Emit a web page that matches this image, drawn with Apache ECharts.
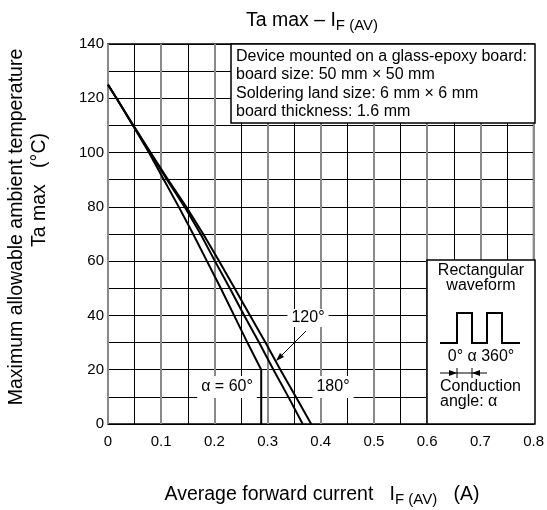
<!DOCTYPE html>
<html>
<head>
<meta charset="utf-8">
<script src="https://cdn.jsdelivr.net/npm/echarts@6/dist/echarts.min.js"></script>
<style>
  html, body { margin: 0; padding: 0; background: #fff; }
  #chart { width: 547px; height: 510px; }
</style>
</head>
<body>
<div id="chart"></div>
<script>
// Ta max vs IF(AV)
const temp60 = [125, 120, 110, 100, 90, 80, 70, 60, 50, 40, 30, 20, 0];
const current60 = [0, 0.016, 0.047, 0.077, 0.105, 0.133, 0.160, 0.186, 0.212, 0.237, 0.262, 0.288, 0.288];

const temp120 = [125, 120, 110, 100, 90, 80, 70, 60, 50, 40, 30, 20, 10, 0];
const current120 = [0, 0.016, 0.047, 0.079, 0.111, 0.144, 0.174, 0.201, 0.229, 0.256, 0.284, 0.311, 0.339, 0.366];

const temp180 = [125, 120, 110, 100, 90, 80, 70, 60, 50, 40, 30, 20, 10, 0];
const current180 = [0, 0.016, 0.048, 0.080, 0.113, 0.147, 0.179, 0.209, 0.238, 0.267, 0.296, 0.324, 0.353, 0.382];

const xTicks = [0, 0.1, 0.2, 0.3, 0.4, 0.5, 0.6, 0.7, 0.8];
const yTicks = [0, 20, 40, 60, 80, 100, 120, 140];

const noteLines = [
  'Device mounted on a glass-epoxy board:',
  'board size: 50 mm \u00d7 50 mm',
  'Soldering land size: 6 mm \u00d7 6 mm',
  'board thickness: 1.6 mm'
];

const FONT = '"Liberation Sans", Arial, sans-serif';

const zip = (xs, ys) => xs.map((x, i) => [x, ys[i]]);

const chart = echarts.init(document.getElementById('chart'));

const curve = (name, xs, ys) => ({
  name,
  type: 'line',
  data: zip(xs, ys),
  showSymbol: false,
  lineStyle: { color: '#000', width: 2 },
  animation: false,
  z: 3
});

const labelBox = (text, x, y, pad) => ({
  type: 'text',
  x, y, z: 10,
  style: {
    text,
    font: '16px ' + FONT,
    fill: '#000',
    align: 'center',
    verticalAlign: 'middle',
    backgroundColor: '#fff',
    padding: pad
  }
});

const plainText = (text, x, y, align) => ({
  type: 'text', z: 9, x, y,
  style: { text, font: '16px ' + FONT, fill: '#000', align, verticalAlign: 'middle' }
});

const subRich = {
  n: { fontSize: 19.5, fontFamily: FONT },
  s: { fontSize: 15, fontFamily: FONT, padding: [10, 0, 0, 0] }
};

const graphics = [
  // title
  {
    type: 'text', x: 312, y: 21,
    style: { text: '{n|Ta max \u2013 I}{s|F (AV)}', align: 'center', verticalAlign: 'middle', fill: '#000', rich: subRich }
  },
  // x axis name
  {
    type: 'text', x: 322, y: 495,
    style: { text: '{n|Average forward current   I}{s|F (AV)}{n|   (A)}', align: 'center', verticalAlign: 'middle', fill: '#000', rich: subRich }
  },
  // y axis name, two lines
  {
    type: 'text', x: 17, y: 227, rotation: Math.PI / 2,
    style: { text: 'Maximum allowable ambient temperature', font: '19.5px ' + FONT, fill: '#000', align: 'center', verticalAlign: 'middle' }
  },
  {
    type: 'text', x: 40, y: 190, rotation: Math.PI / 2,
    style: { text: 'Ta max   (\u00b0C)', font: '19.5px ' + FONT, fill: '#000', align: 'center', verticalAlign: 'middle' }
  },
  // mounting note box
  {
    type: 'rect', z: 8,
    shape: { x: 231, y: 44, width: 304, height: 79 },
    style: { fill: '#fff', stroke: '#000', lineWidth: 1.5 }
  },
  ...noteLines.map((t, i) => plainText(t, 236, 56.5 + i * 18.5, 'left')),
  // waveform box
  {
    type: 'rect', z: 8,
    shape: { x: 427, y: 260, width: 108, height: 164 },
    style: { fill: '#fff', stroke: '#000', lineWidth: 1.5 }
  },
  plainText('Rectangular', 481, 271, 'center'),
  plainText('waveform', 481, 286, 'center'),
  {
    type: 'polyline', z: 9,
    shape: { points: [[440, 343], [457, 343], [457, 313], [472, 313], [472, 343], [487, 343], [487, 313], [502, 313], [502, 343], [520, 343]] },
    style: { stroke: '#000', lineWidth: 2, fill: null }
  },
  plainText('0\u00b0 \u03b1 360\u00b0', 481, 357, 'center'),
  {
    type: 'line', z: 9, shape: { x1: 440, y1: 373, x2: 487, y2: 373 },
    style: { stroke: '#000', lineWidth: 1 }
  },
  {
    type: 'line', z: 9, shape: { x1: 457, y1: 368, x2: 457, y2: 378 },
    style: { stroke: '#000', lineWidth: 1 }
  },
  {
    type: 'line', z: 9, shape: { x1: 472, y1: 368, x2: 472, y2: 378 },
    style: { stroke: '#000', lineWidth: 1 }
  },
  {
    type: 'polygon', z: 9, shape: { points: [[457, 373], [449, 370], [449, 376]] },
    style: { fill: '#000' }
  },
  {
    type: 'polygon', z: 9, shape: { points: [[472, 373], [480, 370], [480, 376]] },
    style: { fill: '#000' }
  },
  plainText('Conduction', 440, 387, 'left'),
  plainText('angle: \u03b1', 440, 402, 'left'),
  // curve labels
  labelBox('120\u00b0', 308, 318, [1, 4]),
  labelBox('\u03b1 = 60\u00b0', 227, 387, [3, 4]),
  labelBox('180\u00b0', 333, 387, [3, 4]),
  // arrow to the 120 deg curve
  {
    type: 'line', z: 10, shape: { x1: 306, y1: 331, x2: 279, y2: 358 },
    style: { stroke: '#000', lineWidth: 1 }
  },
  {
    type: 'polygon', z: 10, shape: { points: [[276, 361], [284, 357], [280, 353]] },
    style: { fill: '#000' }
  }
];

const option = {
  animation: false,
  backgroundColor: '#fff',
  grid: {
    left: 108, right: 12, top: 44, bottom: 86,
    show: true, borderColor: '#000', borderWidth: 1.5, backgroundColor: 'transparent'
  },
  xAxis: [
    {
      type: 'value',
      min: 0, max: 0.8, interval: 0.05,
      axisLine: { show: false },
      axisTick: { show: false },
      axisLabel: {
        color: '#000', fontSize: 15, fontFamily: FONT, margin: 10,
        formatter: v => {
          const t = xTicks.find(x => Math.abs(x - v) < 1e-6);
          return t === undefined ? '' : String(t);
        }
      },
      // odd (0.05) lines black; the 0.1 lines come from the second axis
      splitLine: { show: true, showMinLine: true, lineStyle: { color: ['rgba(0,0,0,0)', '#000'], width: 1 } }
    },
    {
      type: 'value', position: 'top',
      min: 0, max: 0.8, interval: 0.1,
      axisLine: { show: false },
      axisTick: { show: false },
      axisLabel: { show: false },
      splitLine: { show: true, lineStyle: { color: '#8a8a8a', width: 2 } }
    }
  ],
  yAxis: {
    type: 'value',
    min: 0, max: 140, interval: 10,
    axisLine: { show: false },
    axisTick: { show: false },
    axisLabel: {
      color: '#000', fontSize: 15, fontFamily: FONT, margin: 4,
      padding: [0, 0, 6, 0],
      formatter: v => (yTicks.includes(v) ? String(v) : '')
    },
    splitLine: { show: true, lineStyle: { color: '#000', width: 1 } }
  },
  series: [
    curve('60\u00b0', current60, temp60),
    curve('120\u00b0', current120, temp120),
    curve('180\u00b0', current180, temp180)
  ],
  graphic: graphics
};

chart.setOption(option);
</script>
</body>
</html>
